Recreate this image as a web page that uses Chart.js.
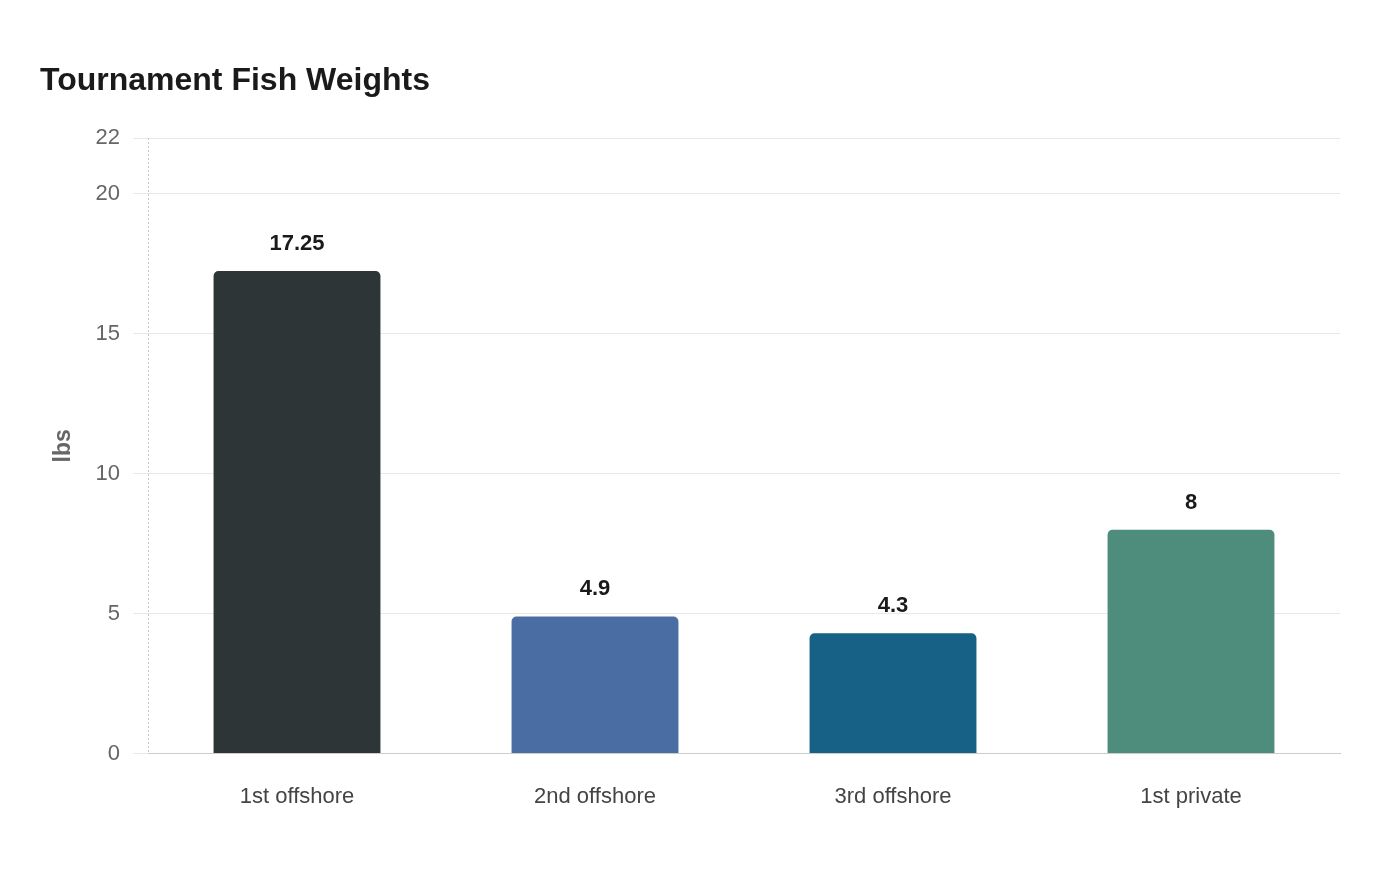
<!DOCTYPE html>
<html>
<head>
<meta charset="utf-8">
<script src="https://cdn.jsdelivr.net/npm/chart.js@4/dist/chart.umd.min.js"></script>
<style>
  html, body { margin: 0; padding: 0; background: #ffffff; }
  #wrap { width: 1400px; height: 880px; }
</style>
</head>
<body>
<div id="wrap"><canvas id="c" width="1400" height="880"></canvas></div>
<script>
const categories = ["1st offshore", "2nd offshore", "3rd offshore", "1st private"];
const weights = [17.25, 4.9, 4.3, 8];
const barColors = ["#2d3537", "#4a6ea3", "#176187", "#4e8d7b"];
const yTicks = [0, 5, 10, 15, 20, 22];
const chartTitle = "Tournament Fish Weights";
const yAxisTitle = "lbs";

const FONT = "'Liberation Sans', Arial, Helvetica, sans-serif";

const valueLabels = {
  id: 'valueLabels',
  afterDatasetsDraw(chart) {
    const ctx = chart.ctx;
    const meta = chart.getDatasetMeta(0);
    ctx.save();
    ctx.font = "bold 22px " + FONT;
    ctx.fillStyle = "#1a1a1a";
    ctx.textAlign = "center";
    ctx.textBaseline = "alphabetic";
    meta.data.forEach((bar, i) => {
      const v = chart.data.datasets[0].data[i];
      ctx.fillText(String(v), bar.x, bar.y - 21);
    });
    ctx.restore();
  }
};

const dottedYAxis = {
  id: 'dottedYAxis',
  beforeDatasetsDraw(chart) {
    const ctx = chart.ctx;
    const y = chart.scales.y;
    ctx.save();
    ctx.strokeStyle = '#c8c8c8';
    ctx.lineWidth = 1;
    ctx.setLineDash([2, 2]);
    ctx.beginPath();
    const x = Math.round(y.right) + 0.5;
    ctx.moveTo(x, y.top);
    ctx.lineTo(x, y.bottom);
    ctx.stroke();
    ctx.restore();
  }
};

new Chart(document.getElementById('c'), {
  type: 'bar',
  data: {
    labels: categories,
    datasets: [{
      data: weights,
      backgroundColor: barColors,
      borderWidth: 0,
      borderRadius: { topLeft: 5, topRight: 5, bottomLeft: 0, bottomRight: 0 },
      borderSkipped: 'bottom',
      barPercentage: 0.7,
      categoryPercentage: 0.8
    }]
  },
  options: {
    responsive: false,
    animation: false,
    devicePixelRatio: 1,
    layout: { padding: { left: 40, right: 60, top: 0, bottom: 48 } },
    plugins: {
      legend: { display: false },
      tooltip: { enabled: false },
      title: {
        display: true,
        text: chartTitle,
        align: 'start',
        color: '#1a1a1a',
        font: { family: FONT, size: 32, weight: 'bold' },
        padding: { top: 62, bottom: 37.6 }
      }
    },
    scales: {
      x: {
        grid: { display: false },
        border: { display: true, color: '#cccccc', width: 1 },
        ticks: {
          color: '#444444',
          font: { family: FONT, size: 22 },
          padding: 22
        }
      },
      y: {
        min: 0,
        max: 22,
        afterBuildTicks: (scale) => { scale.ticks = yTicks.map(v => ({ value: v })); },
        afterFit: (scale) => { scale.width = 108; },
        grid: {
          color: '#e8e8e8',
          lineWidth: 1,
          drawTicks: true,
          tickLength: 15,
          tickColor: '#e8e8e8'
        },
        border: { display: false },
        ticks: {
          color: '#666666',
          font: { family: FONT, size: 22 },
          padding: 13
        },
        title: {
          display: true,
          text: yAxisTitle,
          color: '#666666',
          font: { family: FONT, size: 23, weight: 'bold' },
          padding: { top: 10, bottom: 0 }
        }
      }
    }
  },
  plugins: [dottedYAxis, valueLabels]
});
</script>
</body>
</html>
